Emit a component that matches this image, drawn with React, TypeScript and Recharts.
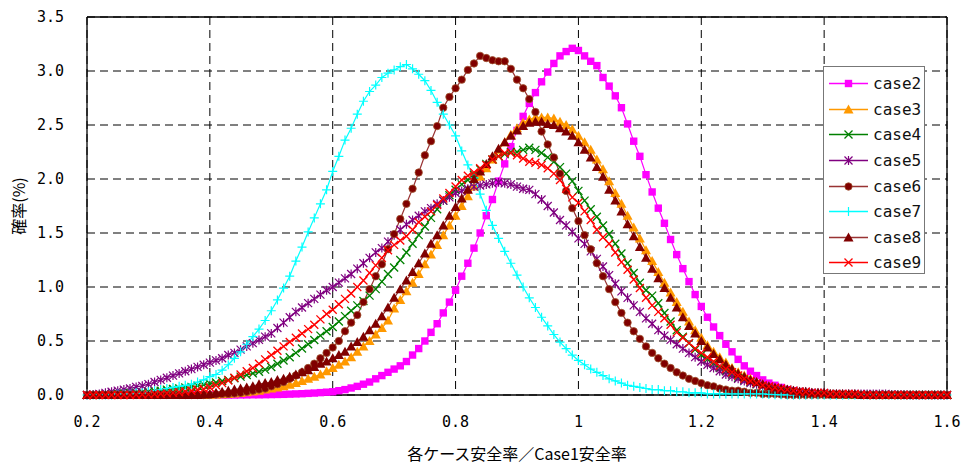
import React from "react";
import { CartesianGrid, Label, Line, LineChart, ReferenceLine, XAxis, YAxis } from "recharts";

// x runs 0.20 .. 1.60 in steps of 0.01 (141 points)
const X_START = 0.2;
const X_STEP = 0.01;

const case2 = [
	0, 0, 0, 0, 0, 0, 0, 0, 0, 0,
	0, 0, 0, 0, 0, 0, 0, 0, 0, 0,
	0, 0, 0, 0, 0, 0.001, 0.001, 0.002, 0.002, 0.003,
	0.004, 0.005, 0.006, 0.008, 0.01, 0.012, 0.015, 0.018, 0.022, 0.026,
	0.03, 0.04, 0.05, 0.065, 0.08, 0.1, 0.12, 0.15, 0.18, 0.21,
	0.24, 0.27, 0.31, 0.37, 0.43, 0.5, 0.58, 0.66, 0.76, 0.86,
	0.97, 1.1, 1.22, 1.36, 1.5, 1.66, 1.81, 1.98, 2.14, 2.3,
	2.45, 2.58, 2.7, 2.8, 2.9, 2.99, 3.07, 3.14, 3.18, 3.21,
	3.19, 3.14, 3.09, 3.05, 2.94, 2.86, 2.77, 2.66, 2.51, 2.35,
	2.21, 2.04, 1.88, 1.73, 1.59, 1.44, 1.3, 1.17, 1.05, 0.93,
	0.82, 0.72, 0.63, 0.55, 0.47, 0.4, 0.33, 0.27, 0.22, 0.18,
	0.14, 0.11, 0.09, 0.07, 0.05, 0.04, 0.03, 0.02, 0.02, 0.01,
	0.01, 0.005, 0.004, 0.003, 0.002, 0.001, 0, 0, 0, 0,
	0, 0, 0, 0, 0, 0, 0, 0, 0, 0,
	0,
];

const case3 = [
	0, 0, 0, 0, 0, 0, 0, 0, 0, 0,
	0, 0, 0, 0, 0, 0, 0, 0, 0, 0,
	0.003, 0.005, 0.007, 0.01, 0.014, 0.019, 0.025, 0.032, 0.04, 0.05,
	0.06, 0.07, 0.08, 0.095, 0.11, 0.13, 0.15, 0.17, 0.19, 0.22,
	0.25, 0.28, 0.31, 0.35, 0.4, 0.45, 0.5, 0.56, 0.62, 0.69,
	0.8, 0.88, 0.96, 1.04, 1.12, 1.21, 1.3, 1.39, 1.48, 1.57,
	1.66, 1.75, 1.84, 1.93, 2.02, 2.1, 2.18, 2.27, 2.34, 2.41,
	2.47, 2.52, 2.55, 2.57, 2.57, 2.57, 2.56, 2.53, 2.5, 2.46,
	2.4, 2.34, 2.27, 2.18, 2.09, 1.98, 1.87, 1.77, 1.66, 1.55,
	1.45, 1.34, 1.24, 1.14, 1.04, 0.95, 0.86, 0.77, 0.68, 0.6,
	0.53, 0.46, 0.4, 0.35, 0.3, 0.25, 0.21, 0.18, 0.15, 0.12,
	0.1, 0.08, 0.07, 0.05, 0.04, 0.04, 0.03, 0.02, 0.02, 0.01,
	0.01, 0.01, 0.005, 0.005, 0.003, 0.002, 0.001, 0, 0, 0,
	0, 0, 0, 0, 0, 0, 0, 0, 0, 0,
	0,
];

const case4 = [
	0, 0, 0.002, 0.004, 0.007, 0.01, 0.013, 0.017, 0.021, 0.026,
	0.03, 0.035, 0.04, 0.05, 0.055, 0.06, 0.07, 0.075, 0.085, 0.095,
	0.105, 0.115, 0.13, 0.14, 0.155, 0.17, 0.185, 0.2, 0.215, 0.235,
	0.26, 0.29, 0.32, 0.35, 0.39, 0.43, 0.47, 0.51, 0.55, 0.59,
	0.63, 0.68, 0.73, 0.78, 0.83, 0.87, 0.92, 0.98, 1.05, 1.12,
	1.18, 1.25, 1.32, 1.4, 1.48, 1.56, 1.64, 1.72, 1.8, 1.85,
	1.9, 1.95, 1.99, 2.04, 2.09, 2.14, 2.18, 2.21, 2.23, 2.25,
	2.25, 2.27, 2.29, 2.27, 2.24, 2.2, 2.16, 2.11, 2.05, 1.98,
	1.89, 1.8, 1.72, 1.65, 1.57, 1.49, 1.4, 1.31, 1.22, 1.13,
	1.04, 0.97, 0.92, 0.85, 0.76, 0.68, 0.6, 0.54, 0.48, 0.42,
	0.37, 0.33, 0.29, 0.25, 0.22, 0.19, 0.16, 0.14, 0.12, 0.1,
	0.08, 0.07, 0.06, 0.05, 0.04, 0.03, 0.03, 0.02, 0.02, 0.015,
	0.01, 0.01, 0.01, 0.005, 0.005, 0.003, 0.002, 0, 0, 0,
	0, 0, 0, 0, 0, 0, 0, 0, 0, 0,
	0,
];

const case5 = [
	0, 0.005, 0.01, 0.02, 0.03, 0.04, 0.05, 0.06, 0.075, 0.085,
	0.1, 0.12, 0.14, 0.16, 0.18, 0.2, 0.22, 0.24, 0.26, 0.28,
	0.3, 0.32, 0.34, 0.37, 0.39, 0.42, 0.45, 0.48, 0.51, 0.54,
	0.57, 0.62, 0.67, 0.72, 0.77, 0.81, 0.85, 0.89, 0.93, 0.97,
	1.0, 1.04, 1.08, 1.12, 1.17, 1.22, 1.27, 1.32, 1.36, 1.42,
	1.48, 1.53, 1.58, 1.62, 1.66, 1.7, 1.73, 1.77, 1.8, 1.83,
	1.87, 1.89, 1.91, 1.93, 1.94, 1.95, 1.96, 1.97, 1.96, 1.95,
	1.93, 1.91, 1.9, 1.86, 1.81, 1.75, 1.69, 1.62, 1.57, 1.51,
	1.45, 1.4, 1.33, 1.26, 1.19, 1.11, 1.03, 0.96, 0.9, 0.83,
	0.77, 0.71, 0.66, 0.6, 0.55, 0.51, 0.47, 0.43, 0.39, 0.35,
	0.31, 0.28, 0.25, 0.22, 0.19, 0.17, 0.15, 0.13, 0.11, 0.1,
	0.08, 0.07, 0.06, 0.05, 0.05, 0.04, 0.03, 0.03, 0.02, 0.02,
	0.02, 0.01, 0.01, 0.01, 0.01, 0.01, 0.01, 0.01, 0.01, 0.01,
	0.01, 0.005, 0.003, 0.002, 0, 0, 0, 0, 0, 0,
	0,
];

const case6 = [
	0, 0, 0, 0, 0, 0, 0, 0, 0, 0,
	0, 0, 0, 0, 0, 0, 0, 0, 0, 0,
	0, 0.005, 0.01, 0.01, 0.015, 0.02, 0.03, 0.04, 0.05, 0.06,
	0.08, 0.1, 0.12, 0.15, 0.18, 0.21, 0.25, 0.29, 0.34, 0.39,
	0.44, 0.5, 0.59, 0.67, 0.74, 0.86, 0.98, 1.1, 1.21, 1.35,
	1.49, 1.63, 1.77, 1.91, 2.06, 2.22, 2.35, 2.49, 2.66, 2.76,
	2.84, 2.92, 3.01, 3.07, 3.14, 3.12, 3.1, 3.09, 3.09, 3.02,
	2.92, 2.84, 2.74, 2.62, 2.44, 2.32, 2.2, 2.05, 1.89, 1.73,
	1.61, 1.48, 1.35, 1.22, 1.1, 0.98, 0.86, 0.76, 0.67, 0.59,
	0.52, 0.45, 0.39, 0.34, 0.29, 0.25, 0.21, 0.18, 0.15, 0.13,
	0.11, 0.09, 0.08, 0.06, 0.05, 0.04, 0.04, 0.03, 0.02, 0.02,
	0.01, 0.01, 0.01, 0.005, 0, 0, 0, 0, 0, 0,
	0, 0, 0, 0, 0, 0, 0, 0, 0, 0,
	0, 0, 0, 0, 0, 0, 0, 0, 0, 0,
	0,
];

const case7 = [
	0, 0, 0, 0, 0, 0.01, 0.01, 0.01, 0.02, 0.02,
	0.03, 0.04, 0.05, 0.06, 0.07, 0.08, 0.09, 0.1, 0.12, 0.14,
	0.17, 0.19, 0.23, 0.28, 0.34, 0.4, 0.47, 0.54, 0.61, 0.69,
	0.78, 0.88, 0.99, 1.1, 1.24, 1.37, 1.51, 1.64, 1.77, 1.9,
	2.07, 2.21, 2.36, 2.47, 2.6, 2.72, 2.81, 2.87, 2.94, 2.98,
	3.01, 3.04, 3.06, 3.02, 2.97, 2.91, 2.82, 2.71, 2.6, 2.5,
	2.4, 2.26, 2.13, 2.01, 1.86, 1.71, 1.57, 1.45, 1.33, 1.22,
	1.11, 1.0, 0.9, 0.81, 0.72, 0.64, 0.56, 0.49, 0.43, 0.37,
	0.32, 0.28, 0.24, 0.21, 0.18, 0.15, 0.13, 0.11, 0.09, 0.08,
	0.07, 0.06, 0.05, 0.05, 0.04, 0.04, 0.03, 0.03, 0.02, 0.02,
	0.02, 0.01, 0.01, 0.01, 0.01, 0.01, 0.01, 0.01, 0.01, 0.01,
	0.01, 0.005, 0.003, 0.002, 0.001, 0, 0, 0, 0, 0,
	0, 0, 0, 0, 0, 0, 0, 0, 0, 0,
	0, 0, 0, 0, 0, 0, 0, 0, 0, 0,
	0,
];

const case8 = [
	0, 0, 0, 0, 0, 0, 0, 0, 0, 0,
	0, 0, 0, 0, 0, 0, 0, 0, 0, 0.005,
	0.01, 0.02, 0.03, 0.04, 0.05, 0.06, 0.07, 0.08, 0.1, 0.11,
	0.12, 0.14, 0.15, 0.17, 0.19, 0.21, 0.23, 0.26, 0.29, 0.31,
	0.34, 0.37, 0.4, 0.45, 0.49, 0.54, 0.6, 0.66, 0.73, 0.81,
	0.9, 0.98, 1.06, 1.14, 1.22, 1.31, 1.4, 1.48, 1.57, 1.66,
	1.74, 1.82, 1.9, 2.0, 2.07, 2.14, 2.21, 2.28, 2.34, 2.4,
	2.45, 2.49, 2.52, 2.53, 2.53, 2.51, 2.5, 2.47, 2.44, 2.4,
	2.34, 2.27, 2.2, 2.11, 2.02, 1.9, 1.8, 1.7, 1.58, 1.47,
	1.37, 1.27, 1.17, 1.08, 0.99, 0.9, 0.81, 0.72, 0.64, 0.57,
	0.5, 0.44, 0.38, 0.33, 0.28, 0.24, 0.2, 0.17, 0.14, 0.12,
	0.1, 0.08, 0.07, 0.06, 0.05, 0.04, 0.03, 0.03, 0.02, 0.02,
	0.02, 0.01, 0.01, 0.01, 0.01, 0.01, 0, 0, 0, 0,
	0, 0, 0, 0, 0, 0, 0, 0, 0, 0,
	0,
];

const case9 = [
	0, 0, 0, 0, 0, 0, 0, 0, 0.002, 0.004,
	0.006, 0.009, 0.012, 0.016, 0.02, 0.025, 0.032, 0.04, 0.048, 0.056,
	0.07, 0.09, 0.11, 0.135, 0.16, 0.19, 0.22, 0.25, 0.29, 0.33,
	0.37, 0.41, 0.45, 0.49, 0.53, 0.57, 0.61, 0.65, 0.7, 0.75,
	0.79, 0.84, 0.89, 0.94, 1.0, 1.06, 1.13, 1.2, 1.27, 1.34,
	1.39, 1.43, 1.47, 1.53, 1.6, 1.65, 1.7, 1.76, 1.82, 1.87,
	1.93, 1.99, 2.03, 2.06, 2.1, 2.13, 2.18, 2.21, 2.24, 2.24,
	2.22, 2.19, 2.16, 2.15, 2.13, 2.1, 2.05, 1.99, 1.91, 1.83,
	1.78, 1.7, 1.62, 1.53, 1.46, 1.4, 1.32, 1.23, 1.16, 1.07,
	0.99, 0.9, 0.83, 0.77, 0.71, 0.65, 0.58, 0.53, 0.48, 0.43,
	0.39, 0.35, 0.31, 0.27, 0.24, 0.21, 0.18, 0.15, 0.13, 0.11,
	0.09, 0.08, 0.07, 0.06, 0.05, 0.04, 0.03, 0.03, 0.02, 0.02,
	0.02, 0.01, 0.01, 0.01, 0.01, 0.01, 0.005, 0, 0, 0,
	0, 0, 0, 0, 0, 0, 0, 0, 0, 0,
	0,
];

const xTicks = [0.2, 0.4, 0.6, 0.8, 1, 1.2, 1.4, 1.6];
const yTicks = [0, 0.5, 1, 1.5, 2, 2.5, 3, 3.5];

const xs = case2.map((_, i) => Math.round((X_START + i * X_STEP) * 100) / 100);
const data = xs.map((x, i) => ({
	x,
	case2: case2[i],
	case3: case3[i],
	case4: case4[i],
	case5: case5[i],
	case6: case6[i],
	case7: case7[i],
	case8: case8[i],
	case9: case9[i],
}));

type Shape = "square" | "triangle" | "x" | "star" | "circle" | "plus";

const series: { key: string; color: string; line: string; shape: Shape }[] = [
	{ key: "case2", color: "#FF00FF", line: "#FF00FF", shape: "square" },
	{ key: "case3", color: "#FF9900", line: "#FF9900", shape: "triangle" },
	{ key: "case4", color: "#008000", line: "#008000", shape: "x" },
	{ key: "case5", color: "#800080", line: "#800080", shape: "star" },
	{ key: "case6", color: "#800000", line: "#993333", shape: "circle" },
	{ key: "case7", color: "#00FFFF", line: "#00FFFF", shape: "plus" },
	{ key: "case8", color: "#800000", line: "#993333", shape: "triangle" },
	{ key: "case9", color: "#FF0000", line: "#FF0000", shape: "x" },
];

function marker(shape: Shape, color: string, cx: number, cy: number, key?: any) {
	switch (shape) {
		case "square":
			return <rect key={key} x={cx - 3.7} y={cy - 3.7} width={7.4} height={7.4} fill={color} />;
		case "triangle":
			return <path key={key} d={`M${cx},${cy - 5}L${cx + 5},${cy + 4}L${cx - 5},${cy + 4}Z`} fill={color} />;
		case "circle":
			return <circle key={key} cx={cx} cy={cy} r={3.7} fill={color} stroke="#A0522D" strokeWidth={0.8} />;
		case "plus":
			return (
				<path key={key} d={`M${cx - 4.5},${cy}H${cx + 4.5}M${cx},${cy - 4.5}V${cy + 4.5}`} stroke={color} strokeWidth={1.2} fill="none" />
			);
		case "x":
			return (
				<path key={key} d={`M${cx - 4},${cy - 4}L${cx + 4},${cy + 4}M${cx - 4},${cy + 4}L${cx + 4},${cy - 4}`} stroke={color} strokeWidth={1.3} fill="none" />
			);
		case "star":
			return (
				<path
					key={key}
					d={`M${cx - 4},${cy - 4}L${cx + 4},${cy + 4}M${cx - 4},${cy + 4}L${cx + 4},${cy - 4}M${cx},${cy - 4.5}V${cy + 4.5}`}
					stroke={color}
					strokeWidth={1.2}
					fill="none"
				/>
			);
	}
}

const tickStyle = { fontFamily: "'DejaVu Sans Mono', monospace", fontSize: 15, fill: "#000" };
const jpFont = "'Noto Sans CJK JP', sans-serif";

function LegendBox() {
	return (
		<div
			style={{
				position: "absolute",
				left: 823,
				top: 66,
				width: 100,
				height: 202,
				border: "1.5px solid #777",
				background: "#fff",
				paddingTop: 4,
				boxSizing: "content-box",
			}}
		>
			{series.map((s) => (
				<div key={s.key} style={{ display: "flex", alignItems: "center", height: 25.6 }}>
					<svg width={47} height={25} style={{ display: "block" }}>
						<line x1={5} y1={12.5} x2={44} y2={12.5} stroke={s.line} strokeWidth={1.5} />
						{marker(s.shape, s.color, 24.5, 12.5)}
					</svg>
					<span style={{ fontFamily: "'DejaVu Sans Mono', monospace", fontSize: 16, color: "#111", marginLeft: 2 }}>
						{s.key}
					</span>
				</div>
			))}
		</div>
	);
}

export default function App() {
	return (
		<div style={{ position: "absolute", left: 0, top: 0, width: 964, height: 466, background: "#fff" }}>
			<LineChart width={964} height={466} data={data} margin={{ top: 17, right: 17, bottom: 0, left: 0 }}>
				<CartesianGrid stroke="#000" strokeDasharray="8 5" strokeWidth={1} />
				<XAxis
					dataKey="x"
					type="number"
					domain={[0.2, 1.6]}
					ticks={xTicks}
					tickFormatter={(v) => String(v)}
					height={71}
					tickLine={false}
					tickSize={0}
					tickMargin={21}
					axisLine={{ stroke: "#000", strokeWidth: 1.3 }}
					tick={tickStyle}
					interval={0}
				>
					<Label value="各ケース安全率／Case1安全率" position="insideBottom" offset={6} style={{ fontFamily: jpFont, fontSize: 16, fill: "#000" }} />
				</XAxis>
				<YAxis
					type="number"
					domain={[0, 3.5]}
					ticks={yTicks}
					tickFormatter={(v) => v.toFixed(1)}
					width={87}
					tickLine={false}
					tickSize={0}
					tickMargin={23}
					axisLine={{ stroke: "#000", strokeWidth: 1.3 }}
					tick={tickStyle}
					interval={0}
				>
					<Label value="確率(%)" angle={-90} position="insideLeft" offset={19} style={{ fontFamily: jpFont, fontSize: 16, fill: "#000", textAnchor: "middle" }} />
				</YAxis>
				<ReferenceLine y={3.5} stroke="#000" strokeWidth={1.3} />
				<ReferenceLine x={1.6} stroke="#000" strokeWidth={1.3} />
				{series.map((s) => (
					<Line
						key={s.key}
						dataKey={s.key}
						type="linear"
						stroke={s.line}
						strokeWidth={1.2}
						isAnimationActive={false}
						activeDot={false}
						dot={(p: any) => marker(s.shape, s.color, p.cx, p.cy, `${s.key}-${p.index}`)}
					/>
				))}
			</LineChart>
			<LegendBox />
		</div>
	);
}
